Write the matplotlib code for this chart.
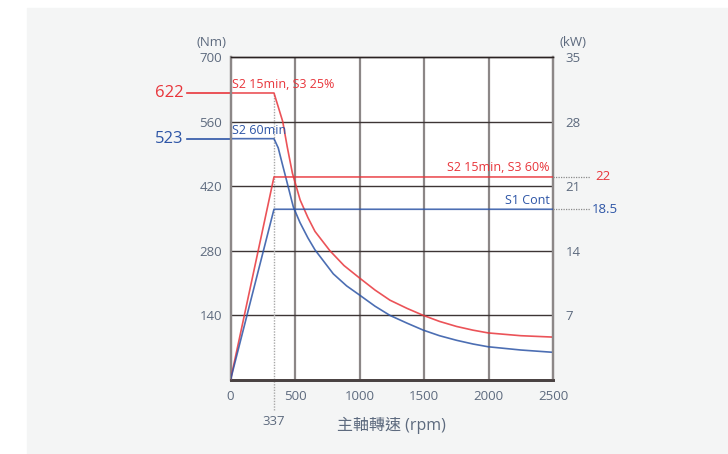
import matplotlib
matplotlib.use("Agg")
from matplotlib import pyplot as plt
from matplotlib.patches import Rectangle

plt.rcParams['font.family'] = ['Open Sans', 'Noto Sans CJK TC', 'DejaVu Sans']

# torque curves (Nm)
red_rpm = [0, 337, 370, 405, 440, 480, 540, 600, 655, 771, 880, 996, 1120, 1236,
           1370, 1495, 1620, 1753, 1880, 1998, 2250, 2500]
red_nm = [622, 622, 592, 560, 505, 448, 390, 352, 322, 280, 248, 222, 195, 173,
          155, 140, 127, 116, 108, 102, 96, 93]
blue_rpm = [0, 337, 370, 400, 436, 487, 539, 600, 655, 797, 900, 996, 1120, 1236,
            1370, 1495, 1620, 1753, 1880, 1998, 2250, 2500]
blue_nm = [523, 523, 503, 470, 431, 375, 341, 308, 282, 230, 204, 185, 160, 140,
           123, 108, 96, 86, 78, 72, 65, 60]

# power lines (kW)
pow_rpm = [0, 337, 2500]
red_kw = [0, 22, 22]
blue_kw = [0, 18.5, 18.5]

nm_ticks = [140, 280, 420, 560, 700]
kw_ticks = [7, 14, 21, 28, 35]
rpm_ticks = [0, 500, 1000, 1500, 2000, 2500]
base_rpm = 337

RED = '#e8353b'
BLUE = '#2d55a6'
TXT = '#5d6a7e'

fig = plt.figure(figsize=(7.28, 4.54), dpi=100)
fig.patch.set_facecolor('white')
fig.patches.append(Rectangle((27/728, 0), 1, 446/454, transform=fig.transFigure,
                             color='#f4f5f5', zorder=-10))

ax = fig.add_axes([230.5/728, 1-380/454, 322.5/728, 323/454])
ax.set_facecolor('white')
ax2 = ax.twinx()

ax.set_xlim(0, 2500)
ax.set_ylim(0, 700)
ax2.set_ylim(0, 35)
ax.set_xticks(rpm_ticks)
ax.set_yticks(nm_ticks)
ax2.set_yticks(kw_ticks)
ax.tick_params(axis='x', length=0, pad=7, labelsize=9.5, labelcolor=TXT)
ax.tick_params(axis='y', length=0, pad=6, labelsize=9.5, labelcolor=TXT)
ax2.tick_params(axis='y', length=0, pad=9, labelsize=9.5, labelcolor=TXT)

# grid
for v in rpm_ticks[1:-1]:
    ax.axvline(v, color='#8c8787', lw=1.6, zorder=0)
for v in nm_ticks[:-1]:
    ax.axhline(v, color='#3d3535', lw=1.0, zorder=0)

for a in (ax, ax2):
    a.spines['top'].set_color('#2a2222')
    a.spines['top'].set_linewidth(1.0)
    a.spines['left'].set_color('#8c8787')
    a.spines['left'].set_linewidth(1.6)
    a.spines['right'].set_color('#8c8787')
    a.spines['right'].set_linewidth(1.6)
    a.spines['bottom'].set_color('#4a4242')
    a.spines['bottom'].set_linewidth(2.0)

# base speed marker
ax.plot([base_rpm, base_rpm], [-0.093, 622/700], transform=ax.get_xaxis_transform(),
        color='#a8a8a8', lw=1, ls=(0, (1, 1)), clip_on=False, zorder=1)
ax.text(base_rpm, -0.13, '337', transform=ax.get_xaxis_transform(), ha='center',
        va='center', fontsize=9.5, color=TXT)

ax.plot(red_rpm, red_nm, color=RED, lw=1.2, zorder=3, alpha=0.85)
ax.plot(blue_rpm, blue_nm, color=BLUE, lw=1.2, zorder=3, alpha=0.85)
ax2.plot(pow_rpm, red_kw, color=RED, lw=1.2, zorder=3, alpha=0.85)
ax2.plot(pow_rpm, blue_kw, color=BLUE, lw=1.2, zorder=3, alpha=0.85)

# left value callouts
ax.plot([-0.136, 0], [622, 622], transform=ax.get_yaxis_transform(), color=RED,
        lw=1.2, clip_on=False)
ax.plot([-0.136, 0], [523, 523], transform=ax.get_yaxis_transform(), color=BLUE,
        lw=1.2, clip_on=False)
ax.text(-0.19, 622, '622', transform=ax.get_yaxis_transform(), ha='center',
        va='center', fontsize=12, color=RED)
ax.text(-0.19, 523, '523', transform=ax.get_yaxis_transform(), ha='center',
        va='center', fontsize=12, color=BLUE)

# right value callouts
ax2.plot([1, 1.115], [22, 22], transform=ax2.get_yaxis_transform(), color='#8a8a8a',
         lw=0.9, ls=(0, (1, 1)), clip_on=False)
ax2.plot([1, 1.115], [18.5, 18.5], transform=ax2.get_yaxis_transform(), color='#8a8a8a',
         lw=0.9, ls=(0, (1, 1)), clip_on=False)
ax2.text(1.13, 22, '22', transform=ax2.get_yaxis_transform(), ha='left',
         va='center', fontsize=9.5, color=RED)
ax2.text(1.12, 18.5, '18.5', transform=ax2.get_yaxis_transform(), ha='left',
         va='center', fontsize=9.5, color=BLUE)

# curve labels
ax.text(10, 627, 'S2 15min, S3 25%', ha='left', va='bottom', fontsize=9, color=RED)
ax.text(10, 527, 'S2 60min', ha='left', va='bottom', fontsize=9, color=BLUE)
ax2.text(2475, 22.3, 'S2 15min, S3 60%', ha='right', va='bottom', fontsize=9, color=RED)
ax2.text(2475, 18.8, 'S1 Cont', ha='right', va='bottom', fontsize=9, color=BLUE)

# unit labels
ax.text(-0.06, 1.045, '(Nm)', transform=ax.transAxes, ha='center', va='center',
        fontsize=9.5, color=TXT)
ax.text(1.062, 1.045, '(kW)', transform=ax.transAxes, ha='center', va='center',
        fontsize=9.5, color=TXT)
ax.text(0.5, -0.14, '主軸轉速 (rpm)', transform=ax.transAxes, ha='center', va='center',
        fontsize=11.5, color=TXT)

fig.savefig('out.png', dpi=100, facecolor=fig.get_facecolor())
